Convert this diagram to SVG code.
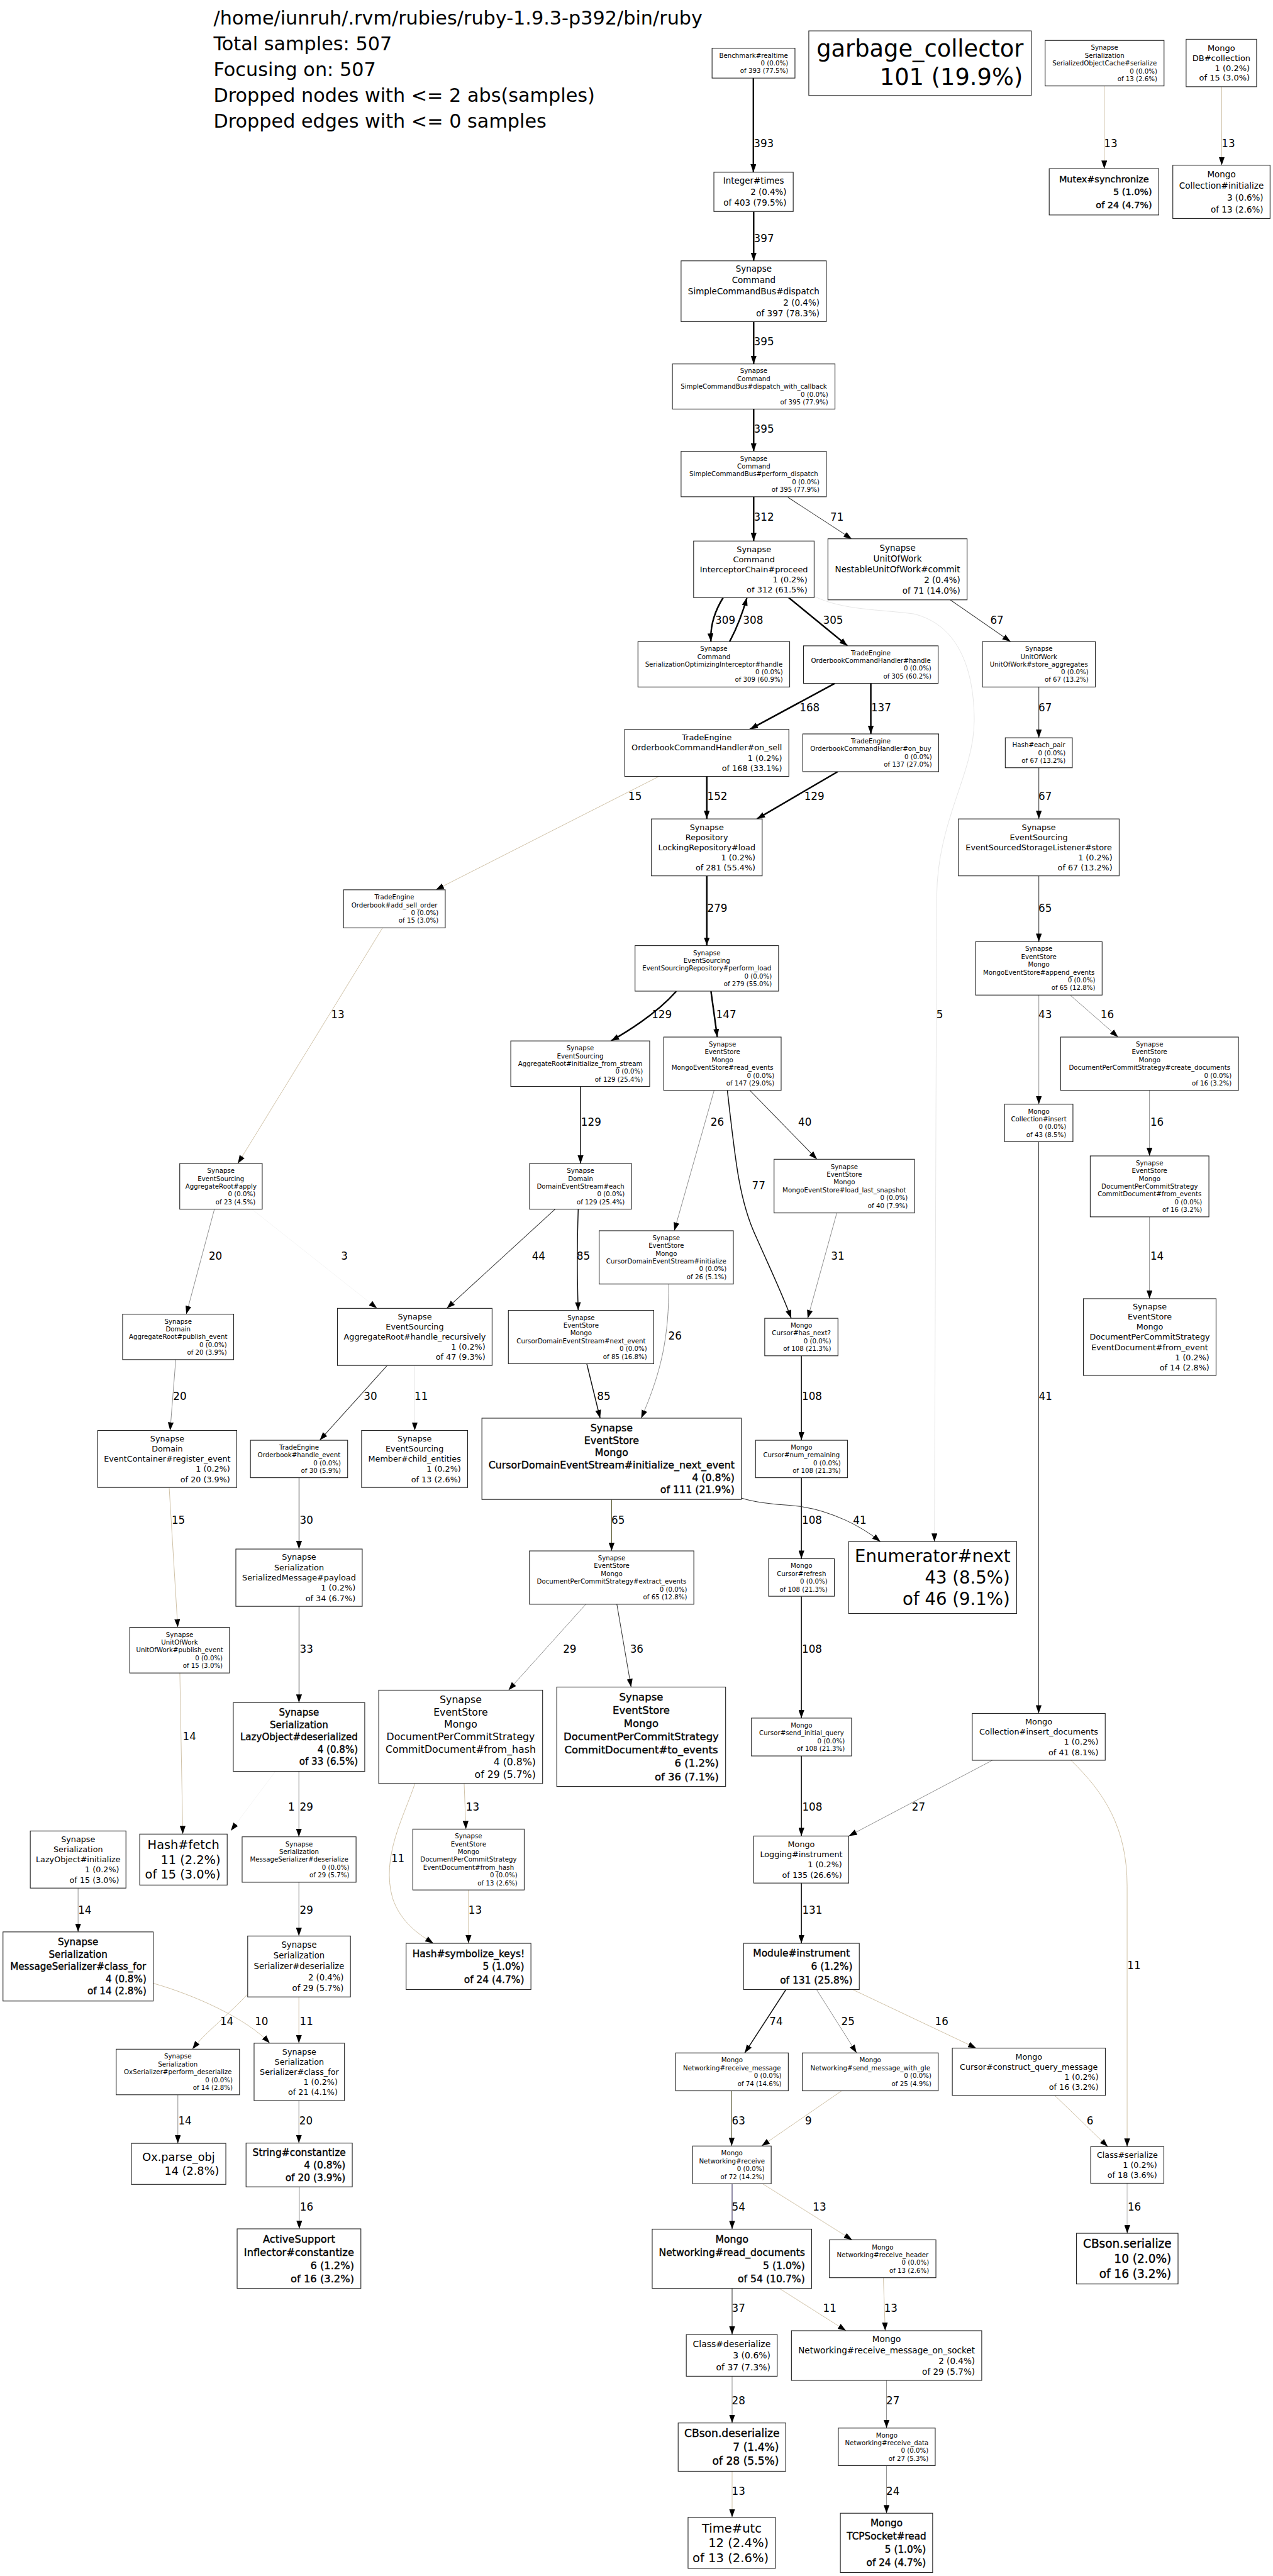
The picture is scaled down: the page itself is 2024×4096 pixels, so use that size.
<svg xmlns="http://www.w3.org/2000/svg" width="2024" height="4096" viewBox="0 0 2024 4096">
<style>
.n rect{fill:#fff;stroke:#222;stroke-width:1.2}
.n text,.lg text,.el text{font-family:'DejaVu Sans',sans-serif;fill:#000}
.c{text-anchor:middle}
.r{text-anchor:end}
.hv text{stroke:#000;stroke-width:0.4px}
.e path{fill:none;marker-end:url(#ah)}
.h{stroke:#000;stroke-width:2.6}
.b{stroke:#111;stroke-width:1.6}
.d{stroke:#333;stroke-width:1.1}
.m{stroke:#888;stroke-width:1}
.t{stroke:#cbbc9f;stroke-width:1}
.f{stroke:#e4e4e4;stroke-width:1}
.g{stroke:#f4f4f4;stroke-width:1}
.el text{font-size:18px;text-anchor:middle}
</style>
<defs>
<marker id="ah" markerUnits="userSpaceOnUse" markerWidth="14" markerHeight="10" refX="14" refY="5" orient="auto" viewBox="0 0 14 10"><path d="M0,0 L14,5 L0,10 z" fill="#000"/></marker>
</defs>
<rect width="2024" height="4096" fill="#fff"/>
<g transform="scale(0.93143)">
<g id="legend" class="lg" font-size="32.5">
<text x="364.5" y="42">/home/iunruh/.rvm/rubies/ruby-1.9.3-p392/bin/ruby</text>
<text x="364.5" y="86">Total samples: 507</text>
<text x="364.5" y="130">Focusing on: 507</text>
<text x="364.5" y="174">Dropped nodes with &lt;= 2 abs(samples)</text>
<text x="364.5" y="218">Dropped edges with &lt;= 0 samples</text>
</g>
<g id="connectors">
<g class="e">
<path class="h" d="M1286,133.3 L1286,294"/>
<path class="h" d="M1286.5,361 L1286.5,445.3"/>
<path class="h" d="M1286.5,549 L1286.5,621.3"/>
<path class="h" d="M1286.5,698.3 L1286.5,770.5"/>
<path class="h" d="M1286.5,848 L1286.5,923.6"/>
<path class="d" d="M1345,849 L1454,920"/>
<path class="h" d="M1234.4,1020.2 C1219,1045 1212,1070 1213.6,1095.3"/>
<path class="h" d="M1245.4,1095.3 C1258,1072 1268,1045 1275,1020.2"/>
<path class="h" d="M1346.3,1020.2 L1446.7,1102.5"/>
<path class="d" d="M1622,1024 L1725,1095.3"/>
<path class="f" d="M1389.7,1018 C1440,1042 1500,1040 1560,1048 C1640,1068 1663,1150 1663,1230 C1663,1320 1600,1400 1599,1530 L1595,2631.7"/>
<path class="h" d="M1425,1166.6 L1280,1245"/>
<path class="h" d="M1486.5,1166.6 L1486.5,1252.9"/>
<path class="d" d="M1773.3,1172.8 L1773.3,1259.5"/>
<path class="t" d="M1125,1325.4 L744,1519"/>
<path class="h" d="M1206.5,1325.4 L1206.5,1398"/>
<path class="h" d="M1430,1317.3 L1292,1398"/>
<path class="d" d="M1773.3,1310.6 L1773.3,1398"/>
<path class="h" d="M1206.5,1495.2 L1206.5,1614.3"/>
<path class="d" d="M1773.3,1495.2 L1773.3,1607.7"/>
<path class="t" d="M653,1584 L406,1986.3"/>
<path class="h" d="M1154.6,1692 C1130,1720 1090,1750 1043,1777"/>
<path class="h" d="M1213.6,1692 L1224.4,1770.4"/>
<path class="m" d="M1773.3,1698.7 L1773.3,1885"/>
<path class="m" d="M1826.7,1698.7 L1908.7,1770.4"/>
<path class="b" d="M991,1854.7 L991,1986.3"/>
<path class="m" d="M1219,1861.4 L1151,2101"/>
<path class="d" d="M1280,1861.4 L1394.6,1979"/>
<path class="m" d="M1962.2,1861.4 L1962.2,1973.3"/>
<path class="b" d="M1241.6,1861.4 C1255,1980 1262,2050 1290,2110 C1312,2160 1336,2210 1350.6,2250.5"/>
<path class="m" d="M366,2064.2 L318,2243.4"/>
<path class="g" d="M430,2064.2 L643.6,2233.5"/>
<path class="d" d="M947.6,2064.2 L762.7,2233.5"/>
<path class="b" d="M987,2064.2 C985,2120 985,2180 987,2237"/>
<path class="m" d="M1428.4,2070.6 L1378.7,2250.5"/>
<path class="m" d="M1962.2,2077.3 L1962.2,2217"/>
<path class="m" d="M1141.5,2192 C1142,2280 1130,2340 1094.5,2421"/>
<path class="m" d="M300,2321 L290.4,2442"/>
<path class="d" d="M661,2331 L545.7,2458.7"/>
<path class="f" d="M708,2331 L708,2442"/>
<path class="b" d="M1001.6,2328 L1024.4,2421"/>
<path class="b" d="M1368,2314.5 L1368,2458.7"/>
<path class="d" d="M1773,1949 L1773,2925"/>
<path class="t" d="M288.8,2539.3 L303.4,2778"/>
<path class="d" d="M510.4,2522.6 L510.4,2644.4"/>
<path class="d" style="stroke:#55552a" d="M1044,2559.7 L1044,2647.6"/>
<path class="b" d="M1368,2522.6 L1368,2661"/>
<path class="d" d="M1265.4,2557.4 C1300,2568 1335,2568 1368.7,2572 C1420,2580 1470,2605 1502.7,2631.7"/>
<path class="d" d="M510.4,2742.2 L510.4,2906.6"/>
<path class="m" d="M1000,2738.6 L868,2885.3"/>
<path class="d" d="M1053,2738.6 L1077.3,2880"/>
<path class="b" d="M1368,2725 L1368,2933"/>
<path class="t" d="M307,2856 L312,3131"/>
<path class="m" d="M1694,3005 L1448.8,3134.3"/>
<path class="t" d="M1828,3005 C1885,3060 1924,3120 1924,3220 L1924,3664.6"/>
<path class="g" d="M470,3024 L394,3125.4"/>
<path class="m" d="M510.2,3024 L510.2,3135.7"/>
<path class="t" d="M792.3,3044.7 L795.3,3122.5"/>
<path class="t" d="M708.3,3044.7 C690,3100 650,3170 670,3240 C685,3285 720,3305 739.8,3317.5"/>
<path class="b" d="M1368,2997.6 L1368,3134.3"/>
<path class="m" d="M133.3,3223.2 L133.3,3298"/>
<path class="m" d="M510.2,3213.2 L510.2,3305"/>
<path class="t" d="M799.7,3226.4 L799.7,3317.5"/>
<path class="b" d="M1368,3214.6 L1368,3317.5"/>
<path class="t" d="M422.2,3404.6 C395,3435 350,3470 328.4,3498.2"/>
<path class="t" d="M261.5,3385.7 C330,3405 420,3445 460.5,3488"/>
<path class="t" d="M510.2,3409 L510.2,3488"/>
<path class="b" d="M1341.6,3396.4 L1271.3,3504.6"/>
<path class="m" d="M1393.8,3396.4 L1462.2,3504.6"/>
<path class="t" d="M1455.4,3396.4 L1666.4,3496.4"/>
<path class="m" d="M303.6,3576 L303.6,3659"/>
<path class="m" d="M510.2,3586 L510.2,3658.5"/>
<path class="d" style="stroke:#4a4a22" d="M1249,3569.3 L1249,3663.5"/>
<path class="t" d="M1436.7,3569.3 L1300,3663.5"/>
<path class="t" d="M1800.4,3577.1 L1891,3664.6"/>
<path class="m" d="M510.9,3733.2 L510.9,3804.9"/>
<path class="d" style="stroke:#2a1f55" d="M1249.7,3728 L1249.7,3805.4"/>
<path class="t" d="M1301.8,3728 L1454.5,3823.7"/>
<path class="f" style="stroke:#d8d8d8;stroke-width:2.4" d="M1924.2,3727 L1924.2,3812.5"/>
<path class="d" d="M1249.7,3906.6 L1249.7,3985.4"/>
<path class="t" d="M1330.3,3906.6 L1444.2,3978.8"/>
<path class="t" d="M1507.9,3888.3 L1511,3978.8"/>
<path class="m" d="M1249.7,4056.5 L1249.7,4136.3"/>
<path class="m" d="M1513.3,4063.6 L1513.3,4145"/>
<path class="t" d="M1249.7,4218.7 L1249.7,4297.5"/>
<path class="m" d="M1513.3,4209 L1513.3,4290.4"/>
<path class="t" d="M1885,146.7 L1885,288"/>
<path class="t" d="M2085.5,148 L2085.5,282"/>
</g>
<g class="el">
<text x="1303.6" y="250.8">393</text>
<text x="1304" y="413.1">397</text>
<text x="1304" y="589.5">395</text>
<text x="1304" y="738.5">395</text>
<text x="1304" y="888.5">312</text>
<text x="1428.6" y="888.5">71</text>
<text x="1238" y="1064.5">309</text>
<text x="1285.5" y="1064.5">308</text>
<text x="1422" y="1064.5">305</text>
<text x="1701.8" y="1064.5">67</text>
<text x="1604" y="1738.5">5</text>
<text x="1382" y="1214.2">168</text>
<text x="1504" y="1214.2">137</text>
<text x="1784" y="1214.2">67</text>
<text x="1084" y="1365.9">15</text>
<text x="1224.5" y="1365.9">152</text>
<text x="1390" y="1365.9">129</text>
<text x="1784" y="1365.9">67</text>
<text x="1224.5" y="1556.5">279</text>
<text x="1784" y="1556.5">65</text>
<text x="576.5" y="1738.5">13</text>
<text x="1129.6" y="1738.5">129</text>
<text x="1239.6" y="1738.5">147</text>
<text x="1784" y="1738.5">43</text>
<text x="1890" y="1738.5">16</text>
<text x="1009" y="1921.5">129</text>
<text x="1224.4" y="1921.5">26</text>
<text x="1374" y="1921.5">40</text>
<text x="1975" y="1921.5">16</text>
<text x="1295" y="2030">77</text>
<text x="367.8" y="2150.5">20</text>
<text x="587.9" y="2150.5">3</text>
<text x="919.4" y="2150.5">44</text>
<text x="995.7" y="2150.5">85</text>
<text x="1430" y="2150.5">31</text>
<text x="1975" y="2150.5">14</text>
<text x="1152.3" y="2287">26</text>
<text x="307" y="2389.5">20</text>
<text x="632.4" y="2389.5">30</text>
<text x="719" y="2389.5">11</text>
<text x="1030.7" y="2389.5">85</text>
<text x="1386" y="2389.5">108</text>
<text x="1784.6" y="2389.5">41</text>
<text x="304.5" y="2601.1">15</text>
<text x="523" y="2601.1">30</text>
<text x="1055" y="2601.1">65</text>
<text x="1386" y="2601.1">108</text>
<text x="1467.6" y="2601.1">41</text>
<text x="523" y="2821.5">33</text>
<text x="972.5" y="2821.5">29</text>
<text x="1086.9" y="2821.5">36</text>
<text x="1386" y="2821.5">108</text>
<text x="323.4" y="2970.2">14</text>
<text x="1568" y="3090.8">27</text>
<text x="1935.7" y="3361.1">11</text>
<text x="497.4" y="3090.8">1</text>
<text x="523" y="3090.8">29</text>
<text x="806.8" y="3090.8">13</text>
<text x="679.2" y="3179">11</text>
<text x="1386.5" y="3090.8">108</text>
<text x="144.8" y="3266.5">14</text>
<text x="523" y="3266.5">29</text>
<text x="811" y="3266.5">13</text>
<text x="1386.5" y="3267.2">131</text>
<text x="387.1" y="3456.9">14</text>
<text x="446.4" y="3456.9">10</text>
<text x="523" y="3456.9">11</text>
<text x="1324.8" y="3456.9">74</text>
<text x="1447.4" y="3456.9">25</text>
<text x="1607.5" y="3456.9">16</text>
<text x="315.7" y="3626.5">14</text>
<text x="522.3" y="3626.8">20</text>
<text x="1260.6" y="3626.8">63</text>
<text x="1380" y="3626.8">9</text>
<text x="1860.6" y="3626.8">6</text>
<text x="523.3" y="3773.3">16</text>
<text x="1260.6" y="3773.3">54</text>
<text x="1398.8" y="3773.3">13</text>
<text x="1936.4" y="3773.3">16</text>
<text x="1260.6" y="3946.1">37</text>
<text x="1416.4" y="3946.1">11</text>
<text x="1520.6" y="3946.1">13</text>
<text x="1260.6" y="4104.7">28</text>
<text x="1524.2" y="4104.7">27</text>
<text x="1260.6" y="4258.8">13</text>
<text x="1524.2" y="4258.8">24</text>
<text x="1896" y="250.8">13</text>
<text x="2096.7" y="250.8">13</text>
</g>
</g>
<g id="n_benchmark" class="n" font-size="11"><rect x="1215.5" y="82.3" width="141.5" height="51"/><text class="c" x="1286.3" y="98.7">Benchmark#realtime</text><text class="r" x="1345.5" y="111.7">0 (0.0%)</text><text class="r" x="1345.5" y="124.7">of 393 (77.5%)</text></g>
<g id="n_gc" class="n" font-size="39.5"><rect x="1380.6" y="52.7" width="379.8" height="110.3"/><text class="c" x="1570.5" y="96.5">garbage_collector</text><text class="r" x="1746" y="144.5">101 (19.9%)</text></g>
<g id="n_soc" class="n" font-size="11"><rect x="1784" y="69" width="203" height="77.7"/><text class="c" x="1885.5" y="84.9">Synapse</text><text class="c" x="1885.5" y="98.3">Serialization</text><text class="c" x="1885.5" y="111.7">SerializedObjectCache#serialize</text><text class="r" x="1975.5" y="125.1">0 (0.0%)</text><text class="r" x="1975.5" y="138.5">of 13 (2.6%)</text></g>
<g id="n_dbcoll" class="n" font-size="14"><rect x="2024.7" y="67" width="120.3" height="81"/><text class="c" x="2084.9" y="86.9">Mongo</text><text class="c" x="2084.9" y="103.9">DB#collection</text><text class="r" x="2133.5" y="120.9">1 (0.2%)</text><text class="r" x="2133.5" y="137.9">of 15 (3.0%)</text></g>
<g id="n_inttimes" class="n" font-size="14.4"><rect x="1218.6" y="294" width="135.4" height="67"/><text class="c" x="1286.3" y="314">Integer#times</text><text class="r" x="1342.5" y="332.5">2 (0.4%)</text><text class="r" x="1342.5" y="351">of 403 (79.5%)</text></g>
<g id="n_mutex" class="n hv" font-size="15.5"><rect x="1791" y="288" width="187" height="79"/><text class="c" x="1884.5" y="310.9">Mutex#synchronize</text><text class="r" x="1966.5" y="332.9">5 (1.0%)</text><text class="r" x="1966.5" y="354.9">of 24 (4.7%)</text></g>
<g id="n_collinit" class="n" font-size="14.5"><rect x="2002" y="282" width="166" height="91"/><text class="c" x="2085" y="302.6">Mongo</text><text class="c" x="2085" y="322.6">Collection#initialize</text><text class="r" x="2156.5" y="342.6">3 (0.6%)</text><text class="r" x="2156.5" y="362.6">of 13 (2.6%)</text></g>
<g id="n_dispatch" class="n" font-size="14.5"><rect x="1162.6" y="445.3" width="247.9" height="103.7"/><text class="c" x="1286.6" y="464.3">Synapse</text><text class="c" x="1286.6" y="483.3">Command</text><text class="c" x="1286.6" y="502.3">SimpleCommandBus#dispatch</text><text class="r" x="1399" y="521.3">2 (0.4%)</text><text class="r" x="1399" y="540.3">of 397 (78.3%)</text></g>
<g id="n_dwc" class="n" font-size="11"><rect x="1147.8" y="621.3" width="277.5" height="77"/><text class="c" x="1286.6" y="636.9">Synapse</text><text class="c" x="1286.6" y="650.3">Command</text><text class="c" x="1286.6" y="663.7">SimpleCommandBus#dispatch_with_callback</text><text class="r" x="1413.8" y="677.1">0 (0.0%)</text><text class="r" x="1413.8" y="690.5">of 395 (77.9%)</text></g>
<g id="n_pdispatch" class="n" font-size="11"><rect x="1162.6" y="770.5" width="247.9" height="77.5"/><text class="c" x="1286.6" y="786.7">Synapse</text><text class="c" x="1286.6" y="799.9">Command</text><text class="c" x="1286.6" y="813.1">SimpleCommandBus#perform_dispatch</text><text class="r" x="1399" y="826.3">0 (0.0%)</text><text class="r" x="1399" y="839.5">of 395 (77.9%)</text></g>
<g id="n_proceed" class="n" font-size="13.9"><rect x="1184" y="923.6" width="205.7" height="96.6"/><text class="c" x="1286.9" y="942.4">Synapse</text><text class="c" x="1286.9" y="959.6">Command</text><text class="c" x="1286.9" y="976.8">InterceptorChain#proceed</text><text class="r" x="1378.2" y="994">1 (0.2%)</text><text class="r" x="1378.2" y="1011.2">of 312 (61.5%)</text></g>
<g id="n_commit" class="n" font-size="14.5"><rect x="1413.3" y="919.8" width="237.5" height="104.2"/><text class="c" x="1532.1" y="940">Synapse</text><text class="c" x="1532.1" y="958.5">UnitOfWork</text><text class="c" x="1532.1" y="977">NestableUnitOfWork#commit</text><text class="r" x="1639.3" y="995.5">2 (0.4%)</text><text class="r" x="1639.3" y="1014">of 71 (14.0%)</text></g>
<g id="n_soi" class="n" font-size="11"><rect x="1089" y="1095.3" width="259" height="77.5"/><text class="c" x="1218.5" y="1111.5">Synapse</text><text class="c" x="1218.5" y="1124.7">Command</text><text class="c" x="1218.5" y="1137.9">SerializationOptimizingInterceptor#handle</text><text class="r" x="1336.5" y="1151.1">0 (0.0%)</text><text class="r" x="1336.5" y="1164.3">of 309 (60.9%)</text></g>
<g id="n_och" class="n" font-size="11"><rect x="1371.6" y="1102.5" width="229.8" height="64.1"/><text class="c" x="1486.5" y="1118.6">TradeEngine</text><text class="c" x="1486.5" y="1131.8">OrderbookCommandHandler#handle</text><text class="r" x="1589.9" y="1145">0 (0.0%)</text><text class="r" x="1589.9" y="1158.2">of 305 (60.2%)</text></g>
<g id="n_storeagg" class="n" font-size="11"><rect x="1677" y="1095.3" width="192.7" height="77.5"/><text class="c" x="1773.4" y="1111.5">Synapse</text><text class="c" x="1773.4" y="1124.7">UnitOfWork</text><text class="c" x="1773.4" y="1137.9">UnitOfWork#store_aggregates</text><text class="r" x="1858.2" y="1151.1">0 (0.0%)</text><text class="r" x="1858.2" y="1164.3">of 67 (13.2%)</text></g>
<g id="n_onsell" class="n" font-size="13.8"><rect x="1066.4" y="1245" width="280.2" height="80.4"/><text class="c" x="1206.5" y="1263.8">TradeEngine</text><text class="c" x="1206.5" y="1281.3">OrderbookCommandHandler#on_sell</text><text class="r" x="1335.1" y="1298.8">1 (0.2%)</text><text class="r" x="1335.1" y="1316.3">of 168 (33.1%)</text></g>
<g id="n_onbuy" class="n" font-size="11"><rect x="1370.4" y="1252.9" width="231.9" height="64.4"/><text class="c" x="1486.4" y="1268.9">TradeEngine</text><text class="c" x="1486.4" y="1282.3">OrderbookCommandHandler#on_buy</text><text class="r" x="1590.8" y="1295.7">0 (0.0%)</text><text class="r" x="1590.8" y="1309.1">of 137 (27.0%)</text></g>
<g id="n_eachpair" class="n" font-size="11"><rect x="1716" y="1259.5" width="114.4" height="51.1"/><text class="c" x="1773.2" y="1275.6">Hash#each_pair</text><text class="r" x="1818.9" y="1288.9">0 (0.0%)</text><text class="r" x="1818.9" y="1302.2">of 67 (13.2%)</text></g>
<g id="n_lockload" class="n" font-size="13.7"><rect x="1112" y="1398" width="189" height="97.2"/><text class="c" x="1206.5" y="1416.8">Synapse</text><text class="c" x="1206.5" y="1434.1">Repository</text><text class="c" x="1206.5" y="1451.4">LockingRepository#load</text><text class="r" x="1289.5" y="1468.7">1 (0.2%)</text><text class="r" x="1289.5" y="1486">of 281 (55.4%)</text></g>
<g id="n_esstore" class="n" font-size="13.7"><rect x="1636" y="1398" width="274.4" height="97.2"/><text class="c" x="1773.2" y="1416.8">Synapse</text><text class="c" x="1773.2" y="1434.1">EventSourcing</text><text class="c" x="1773.2" y="1451.4">EventSourcedStorageListener#store</text><text class="r" x="1898.9" y="1468.7">1 (0.2%)</text><text class="r" x="1898.9" y="1486">of 67 (13.2%)</text></g>
<g id="n_addsell" class="n" font-size="11"><rect x="586.4" y="1519" width="173.6" height="65"/><text class="c" x="673.2" y="1535.6">TradeEngine</text><text class="c" x="673.2" y="1548.8">Orderbook#add_sell_order</text><text class="r" x="748.5" y="1562">0 (0.0%)</text><text class="r" x="748.5" y="1575.2">of 15 (3.0%)</text></g>
<g id="n_perfload" class="n" font-size="11"><rect x="1084" y="1614.3" width="245" height="77.7"/><text class="c" x="1206.5" y="1630.6">Synapse</text><text class="c" x="1206.5" y="1643.8">EventSourcing</text><text class="c" x="1206.5" y="1657">EventSourcingRepository#perform_load</text><text class="r" x="1317.5" y="1670.2">0 (0.0%)</text><text class="r" x="1317.5" y="1683.4">of 279 (55.0%)</text></g>
<g id="n_append" class="n" font-size="11"><rect x="1665.3" y="1607.7" width="216" height="91"/><text class="c" x="1773.3" y="1623.8">Synapse</text><text class="c" x="1773.3" y="1637.1">EventStore</text><text class="c" x="1773.3" y="1650.4">Mongo</text><text class="c" x="1773.3" y="1663.7">MongoEventStore#append_events</text><text class="r" x="1869.8" y="1677">0 (0.0%)</text><text class="r" x="1869.8" y="1690.3">of 65 (12.8%)</text></g>
<g id="n_initstream" class="n" font-size="11"><rect x="871.9" y="1777" width="237.1" height="77.7"/><text class="c" x="990.5" y="1793.1">Synapse</text><text class="c" x="990.5" y="1806.4">EventSourcing</text><text class="c" x="990.5" y="1819.7">AggregateRoot#initialize_from_stream</text><text class="r" x="1097.5" y="1833">0 (0.0%)</text><text class="r" x="1097.5" y="1846.3">of 129 (25.4%)</text></g>
<g id="n_readevents" class="n" font-size="11"><rect x="1133" y="1770.4" width="200.4" height="91"/><text class="c" x="1233.2" y="1786.5">Synapse</text><text class="c" x="1233.2" y="1799.8">EventStore</text><text class="c" x="1233.2" y="1813.1">Mongo</text><text class="c" x="1233.2" y="1826.4">MongoEventStore#read_events</text><text class="r" x="1321.9" y="1839.7">0 (0.0%)</text><text class="r" x="1321.9" y="1853">of 147 (29.0%)</text></g>
<g id="n_createdocs" class="n" font-size="11"><rect x="1810.5" y="1770.4" width="303.5" height="91"/><text class="c" x="1962.3" y="1786.5">Synapse</text><text class="c" x="1962.3" y="1799.8">EventStore</text><text class="c" x="1962.3" y="1813.1">Mongo</text><text class="c" x="1962.3" y="1826.4">DocumentPerCommitStrategy#create_documents</text><text class="r" x="2102.5" y="1839.7">0 (0.0%)</text><text class="r" x="2102.5" y="1853">of 16 (3.2%)</text></g>
<g id="n_collinsert" class="n" font-size="11"><rect x="1714.8" y="1885" width="116.7" height="64"/><text class="c" x="1773.2" y="1900.9">Mongo</text><text class="c" x="1773.2" y="1914.2">Collection#insert</text><text class="r" x="1820" y="1927.5">0 (0.0%)</text><text class="r" x="1820" y="1940.8">of 43 (8.5%)</text></g>
<g id="n_apply" class="n" font-size="11"><rect x="306.8" y="1986.3" width="140.8" height="77.9"/><text class="c" x="377.2" y="2002.5">Synapse</text><text class="c" x="377.2" y="2015.8">EventSourcing</text><text class="c" x="377.2" y="2029.1">AggregateRoot#apply</text><text class="r" x="436.1" y="2042.4">0 (0.0%)</text><text class="r" x="436.1" y="2055.7">of 23 (4.5%)</text></g>
<g id="n_each" class="n" font-size="11"><rect x="904" y="1986.3" width="174" height="77.9"/><text class="c" x="991" y="2002.5">Synapse</text><text class="c" x="991" y="2015.8">Domain</text><text class="c" x="991" y="2029.1">DomainEventStream#each</text><text class="r" x="1066.5" y="2042.4">0 (0.0%)</text><text class="r" x="1066.5" y="2055.7">of 129 (25.4%)</text></g>
<g id="n_snapshot" class="n" font-size="11"><rect x="1321.3" y="1979" width="239.7" height="91.6"/><text class="c" x="1441.2" y="1995.4">Synapse</text><text class="c" x="1441.2" y="2008.7">EventStore</text><text class="c" x="1441.2" y="2022">Mongo</text><text class="c" x="1441.2" y="2035.3">MongoEventStore#load_last_snapshot</text><text class="r" x="1549.5" y="2048.6">0 (0.0%)</text><text class="r" x="1549.5" y="2061.9">of 40 (7.9%)</text></g>
<g id="n_fromevents" class="n" font-size="11"><rect x="1861" y="1973.3" width="202.6" height="104"/><text class="c" x="1962.3" y="1989.3">Synapse</text><text class="c" x="1962.3" y="2002.6">EventStore</text><text class="c" x="1962.3" y="2015.9">Mongo</text><text class="c" x="1962.3" y="2029.2">DocumentPerCommitStrategy</text><text class="c" x="1962.3" y="2042.5">CommitDocument#from_events</text><text class="r" x="2052.1" y="2055.8">0 (0.0%)</text><text class="r" x="2052.1" y="2069.1">of 16 (3.2%)</text></g>
<g id="n_cdesinit" class="n" font-size="11"><rect x="1022.7" y="2101" width="229.1" height="91"/><text class="c" x="1137.3" y="2117.1">Synapse</text><text class="c" x="1137.3" y="2130.4">EventStore</text><text class="c" x="1137.3" y="2143.7">Mongo</text><text class="c" x="1137.3" y="2157">CursorDomainEventStream#initialize</text><text class="r" x="1240.3" y="2170.3">0 (0.0%)</text><text class="r" x="1240.3" y="2183.6">of 26 (5.1%)</text></g>
<g id="n_publish" class="n" font-size="11"><rect x="209.3" y="2243.4" width="189.6" height="77.6"/><text class="c" x="304.1" y="2259.5">Synapse</text><text class="c" x="304.1" y="2272.8">Domain</text><text class="c" x="304.1" y="2286.1">AggregateRoot#publish_event</text><text class="r" x="387.4" y="2299.4">0 (0.0%)</text><text class="r" x="387.4" y="2312.7">of 20 (3.9%)</text></g>
<g id="n_handlerec" class="n" font-size="13.7"><rect x="576" y="2233.5" width="264" height="97.5"/><text class="c" x="708" y="2252.7">Synapse</text><text class="c" x="708" y="2269.9">EventSourcing</text><text class="c" x="708" y="2287.1">AggregateRoot#handle_recursively</text><text class="r" x="828.5" y="2304.3">1 (0.2%)</text><text class="r" x="828.5" y="2321.5">of 47 (9.3%)</text></g>
<g id="n_nextevent" class="n" font-size="11"><rect x="867.8" y="2237" width="248.2" height="91"/><text class="c" x="991.9" y="2253.1">Synapse</text><text class="c" x="991.9" y="2266.4">EventStore</text><text class="c" x="991.9" y="2279.7">Mongo</text><text class="c" x="991.9" y="2293">CursorDomainEventStream#next_event</text><text class="r" x="1104.5" y="2306.3">0 (0.0%)</text><text class="r" x="1104.5" y="2319.6">of 85 (16.8%)</text></g>
<g id="n_hasnext" class="n" font-size="11"><rect x="1305.4" y="2250.5" width="125" height="64"/><text class="c" x="1367.9" y="2266.4">Mongo</text><text class="c" x="1367.9" y="2279.7">Cursor#has_next?</text><text class="r" x="1418.9" y="2293">0 (0.0%)</text><text class="r" x="1418.9" y="2306.3">of 108 (21.3%)</text></g>
<g id="n_fromevent" class="n" font-size="13.7"><rect x="1849.4" y="2217" width="226.4" height="131"/><text class="c" x="1962.6" y="2235.4">Synapse</text><text class="c" x="1962.6" y="2252.7">EventStore</text><text class="c" x="1962.6" y="2270">Mongo</text><text class="c" x="1962.6" y="2287.3">DocumentPerCommitStrategy</text><text class="c" x="1962.6" y="2304.6">EventDocument#from_event</text><text class="r" x="2064.3" y="2321.9">1 (0.2%)</text><text class="r" x="2064.3" y="2339.2">of 14 (2.8%)</text></g>
<g id="n_register" class="n" font-size="13.7"><rect x="166.8" y="2442" width="237.4" height="97.3"/><text class="c" x="285.5" y="2460.9">Synapse</text><text class="c" x="285.5" y="2478.2">Domain</text><text class="c" x="285.5" y="2495.5">EventContainer#register_event</text><text class="r" x="392.7" y="2512.8">1 (0.2%)</text><text class="r" x="392.7" y="2530.1">of 20 (3.9%)</text></g>
<g id="n_handleevent" class="n" font-size="11"><rect x="427.5" y="2458.7" width="165.9" height="63.9"/><text class="c" x="510.5" y="2474.6">TradeEngine</text><text class="c" x="510.5" y="2487.9">Orderbook#handle_event</text><text class="r" x="581.9" y="2501.2">0 (0.0%)</text><text class="r" x="581.9" y="2514.5">of 30 (5.9%)</text></g>
<g id="n_child" class="n" font-size="13.7"><rect x="617.2" y="2442" width="181" height="97.3"/><text class="c" x="707.7" y="2460.9">Synapse</text><text class="c" x="707.7" y="2478.2">EventSourcing</text><text class="c" x="707.7" y="2495.5">Member#child_entities</text><text class="r" x="786.7" y="2512.8">1 (0.2%)</text><text class="r" x="786.7" y="2530.1">of 13 (2.6%)</text></g>
<g id="n_initnext" class="n hv" font-size="17"><rect x="822.6" y="2421" width="442.8" height="138.7"/><text class="c" x="1044" y="2443.3">Synapse</text><text class="c" x="1044" y="2464.5">EventStore</text><text class="c" x="1044" y="2485.7">Mongo</text><text class="c" x="1044" y="2506.9">CursorDomainEventStream#initialize_next_event</text><text class="r" x="1253.9" y="2528.1">4 (0.8%)</text><text class="r" x="1253.9" y="2549.3">of 111 (21.9%)</text></g>
<g id="n_numrem" class="n" font-size="11"><rect x="1289.7" y="2458.7" width="156.9" height="63.9"/><text class="c" x="1368.2" y="2474.6">Mongo</text><text class="c" x="1368.2" y="2487.9">Cursor#num_remaining</text><text class="r" x="1435.1" y="2501.2">0 (0.0%)</text><text class="r" x="1435.1" y="2514.5">of 108 (21.3%)</text></g>
<g id="n_enum" class="n" font-size="29.6"><rect x="1448.5" y="2631.7" width="287" height="122.7"/><text class="c" x="1592" y="2666.4">Enumerator#next</text><text class="r" x="1724" y="2703.4">43 (8.5%)</text><text class="r" x="1724" y="2740.4">of 46 (9.1%)</text></g>
<g id="n_extract" class="n" font-size="11"><rect x="903.8" y="2647.6" width="280.6" height="91"/><text class="c" x="1044.1" y="2663.7">Synapse</text><text class="c" x="1044.1" y="2677">EventStore</text><text class="c" x="1044.1" y="2690.3">Mongo</text><text class="c" x="1044.1" y="2703.6">DocumentPerCommitStrategy#extract_events</text><text class="r" x="1172.9" y="2716.9">0 (0.0%)</text><text class="r" x="1172.9" y="2730.2">of 65 (12.8%)</text></g>
<g id="n_refresh" class="n" font-size="11"><rect x="1312" y="2661" width="112.2" height="64"/><text class="c" x="1368.1" y="2676.9">Mongo</text><text class="c" x="1368.1" y="2690.2">Cursor#refresh</text><text class="r" x="1412.7" y="2703.5">0 (0.0%)</text><text class="r" x="1412.7" y="2716.8">of 108 (21.3%)</text></g>
<g id="n_payload" class="n" font-size="13.8"><rect x="402.6" y="2644.4" width="215.7" height="97.8"/><text class="c" x="510.5" y="2663.1">Synapse</text><text class="c" x="510.5" y="2680.6">Serialization</text><text class="c" x="510.5" y="2698.1">SerializedMessage#payload</text><text class="r" x="606.8" y="2715.6">1 (0.2%)</text><text class="r" x="606.8" y="2733.1">of 34 (6.7%)</text></g>
<g id="n_uowpublish" class="n" font-size="11"><rect x="221.5" y="2778" width="170.2" height="78"/><text class="c" x="306.6" y="2794.3">Synapse</text><text class="c" x="306.6" y="2807.6">UnitOfWork</text><text class="c" x="306.6" y="2820.9">UnitOfWork#publish_event</text><text class="r" x="380.2" y="2834.2">0 (0.0%)</text><text class="r" x="380.2" y="2847.5">of 15 (3.0%)</text></g>
<g id="n_fromhash" class="n" font-size="16.9"><rect x="646.5" y="2885.3" width="279.7" height="159.4"/><text class="c" x="786.4" y="2907">Synapse</text><text class="c" x="786.4" y="2928.3">EventStore</text><text class="c" x="786.4" y="2949.6">Mongo</text><text class="c" x="786.4" y="2970.9">DocumentPerCommitStrategy</text><text class="c" x="786.4" y="2992.2">CommitDocument#from_hash</text><text class="r" x="914.7" y="3013.5">4 (0.8%)</text><text class="r" x="914.7" y="3034.8">of 29 (5.7%)</text></g>
<g id="n_toevents" class="n hv" font-size="17.7"><rect x="950.4" y="2880" width="288.2" height="169.7"/><text class="c" x="1094.5" y="2903.3">Synapse</text><text class="c" x="1094.5" y="2925.9">EventStore</text><text class="c" x="1094.5" y="2948.5">Mongo</text><text class="c" x="1094.5" y="2971.1">DocumentPerCommitStrategy</text><text class="c" x="1094.5" y="2993.7">CommitDocument#to_events</text><text class="r" x="1227.1" y="3016.3">6 (1.2%)</text><text class="r" x="1227.1" y="3038.9">of 36 (7.1%)</text></g>
<g id="n_lazydeser" class="n hv" font-size="16.2"><rect x="398.2" y="2906.6" width="224.4" height="117.4"/><text class="c" x="510.4" y="2929">Synapse</text><text class="c" x="510.4" y="2950">Serialization</text><text class="c" x="510.4" y="2971">LazyObject#deserialized</text><text class="r" x="611.1" y="2992">4 (0.8%)</text><text class="r" x="611.1" y="3013">of 33 (6.5%)</text></g>
<g id="n_sendinit" class="n" font-size="11"><rect x="1282.7" y="2933" width="170.9" height="64.6"/><text class="c" x="1368.2" y="2949.2">Mongo</text><text class="c" x="1368.2" y="2962.5">Cursor#send_initial_query</text><text class="r" x="1442.1" y="2975.8">0 (0.0%)</text><text class="r" x="1442.1" y="2989.1">of 108 (21.3%)</text></g>
<g id="n_insertdocs" class="n" font-size="13.8"><rect x="1659.6" y="2925" width="227" height="80"/><text class="c" x="1773.1" y="2943.6">Mongo</text><text class="c" x="1773.1" y="2961.1">Collection#insert_documents</text><text class="r" x="1875.1" y="2978.6">1 (0.2%)</text><text class="r" x="1875.1" y="2996.1">of 41 (8.1%)</text></g>
<g id="n_lazyinit" class="n" font-size="13.7"><rect x="51.7" y="3125.7" width="163.3" height="97.5"/><text class="c" x="133.4" y="3144.7">Synapse</text><text class="c" x="133.4" y="3162">Serialization</text><text class="c" x="133.4" y="3179.3">LazyObject#initialize</text><text class="r" x="203.5" y="3196.6">1 (0.2%)</text><text class="r" x="203.5" y="3213.9">of 15 (3.0%)</text></g>
<g id="n_hashfetch" class="n" font-size="20.8"><rect x="238.5" y="3131" width="149.3" height="87"/><text class="c" x="313.2" y="3156.3">Hash#fetch</text><text class="r" x="376.3" y="3181.8">11 (2.2%)</text><text class="r" x="376.3" y="3207.3">of 15 (3.0%)</text></g>
<g id="n_msgdeser" class="n" font-size="11"><rect x="413.3" y="3135.7" width="194.5" height="77.5"/><text class="c" x="510.6" y="3151.7">Synapse</text><text class="c" x="510.6" y="3165">Serialization</text><text class="c" x="510.6" y="3178.3">MessageSerializer#deserialize</text><text class="r" x="596.3" y="3191.6">0 (0.0%)</text><text class="r" x="596.3" y="3204.9">of 29 (5.7%)</text></g>
<g id="n_evdocfromhash" class="n" font-size="11"><rect x="704.7" y="3122.5" width="190.1" height="103.9"/><text class="c" x="799.8" y="3138.4">Synapse</text><text class="c" x="799.8" y="3151.7">EventStore</text><text class="c" x="799.8" y="3165">Mongo</text><text class="c" x="799.8" y="3178.3">DocumentPerCommitStrategy</text><text class="c" x="799.8" y="3191.6">EventDocument#from_hash</text><text class="r" x="883.3" y="3204.9">0 (0.0%)</text><text class="r" x="883.3" y="3218.2">of 13 (2.6%)</text></g>
<g id="n_logging" class="n" font-size="13.7"><rect x="1286.7" y="3134.3" width="162.1" height="80.3"/><text class="c" x="1367.8" y="3153.2">Mongo</text><text class="c" x="1367.8" y="3170.6">Logging#instrument</text><text class="r" x="1437.3" y="3188">1 (0.2%)</text><text class="r" x="1437.3" y="3205.4">of 135 (26.6%)</text></g>
<g id="n_classfor" class="n hv" font-size="16.3"><rect x="5.1" y="3298" width="256.4" height="118"/><text class="c" x="133.3" y="3320.7">Synapse</text><text class="c" x="133.3" y="3341.7">Serialization</text><text class="c" x="133.3" y="3362.7">MessageSerializer#class_for</text><text class="r" x="250" y="3383.7">4 (0.8%)</text><text class="r" x="250" y="3404.7">of 14 (2.8%)</text></g>
<g id="n_serdeser" class="n" font-size="14.2"><rect x="422.8" y="3305" width="175.4" height="104"/><text class="c" x="510.5" y="3324.6">Synapse</text><text class="c" x="510.5" y="3343.3">Serialization</text><text class="c" x="510.5" y="3362">Serializer#deserialize</text><text class="r" x="586.7" y="3380.7">2 (0.4%)</text><text class="r" x="586.7" y="3399.4">of 29 (5.7%)</text></g>
<g id="n_symbolize" class="n hv" font-size="16.6"><rect x="693.2" y="3317.5" width="213.1" height="78.9"/><text class="c" x="799.8" y="3340.7">Hash#symbolize_keys!</text><text class="r" x="894.8" y="3362.8">5 (1.0%)</text><text class="r" x="894.8" y="3384.9">of 24 (4.7%)</text></g>
<g id="n_module" class="n hv" font-size="16.6"><rect x="1269.3" y="3317.5" width="197.5" height="78.9"/><text class="c" x="1368.1" y="3339.9">Module#instrument</text><text class="r" x="1455.3" y="3362.8">6 (1.2%)</text><text class="r" x="1455.3" y="3385.7">of 131 (25.8%)</text></g>
<g id="n_ox" class="n" font-size="11"><rect x="198.3" y="3498.2" width="210.5" height="77.8"/><text class="c" x="303.6" y="3514.4">Synapse</text><text class="c" x="303.6" y="3527.7">Serialization</text><text class="c" x="303.6" y="3541">OxSerializer#perform_deserialize</text><text class="r" x="397.3" y="3554.3">0 (0.0%)</text><text class="r" x="397.3" y="3567.6">of 14 (2.8%)</text></g>
<g id="n_serclassfor" class="n" font-size="13.7"><rect x="433.7" y="3488" width="154.3" height="98"/><text class="c" x="510.9" y="3507.4">Synapse</text><text class="c" x="510.9" y="3524.6">Serialization</text><text class="c" x="510.9" y="3541.8">Serializer#class_for</text><text class="r" x="576.5" y="3559">1 (0.2%)</text><text class="r" x="576.5" y="3576.2">of 21 (4.1%)</text></g>
<g id="n_recvmsg" class="n" font-size="11"><rect x="1153.4" y="3504.6" width="192.2" height="64.7"/><text class="c" x="1249.5" y="3520.9">Mongo</text><text class="c" x="1249.5" y="3534.2">Networking#receive_message</text><text class="r" x="1334.1" y="3547.5">0 (0.0%)</text><text class="r" x="1334.1" y="3560.8">of 74 (14.6%)</text></g>
<g id="n_sendgle" class="n" font-size="11"><rect x="1369.7" y="3504.6" width="231.8" height="64.7"/><text class="c" x="1485.6" y="3520.9">Mongo</text><text class="c" x="1485.6" y="3534.2">Networking#send_message_with_gle</text><text class="r" x="1590" y="3547.5">0 (0.0%)</text><text class="r" x="1590" y="3560.8">of 25 (4.9%)</text></g>
<g id="n_cqm" class="n" font-size="13.7"><rect x="1625.6" y="3496.4" width="261.2" height="80.7"/><text class="c" x="1756.2" y="3515.6">Mongo</text><text class="c" x="1756.2" y="3532.9">Cursor#construct_query_message</text><text class="r" x="1875.3" y="3550.2">1 (0.2%)</text><text class="r" x="1875.3" y="3567.5">of 16 (3.2%)</text></g>
<g id="n_parseobj" class="n" font-size="19"><rect x="224.3" y="3659" width="161.2" height="70"/><text class="c" x="304.9" y="3688.7">Ox.parse_obj</text><text class="r" x="374" y="3712.7">14 (2.8%)</text></g>
<g id="n_strconst" class="n hv" font-size="16.6"><rect x="420" y="3658.5" width="181.3" height="74.7"/><text class="c" x="510.7" y="3680.1">String#constantize</text><text class="r" x="589.8" y="3701.7">4 (0.8%)</text><text class="r" x="589.8" y="3723.3">of 20 (3.9%)</text></g>
<g id="n_recv" class="n" font-size="11"><rect x="1182.4" y="3663.5" width="134" height="64.5"/><text class="c" x="1249.4" y="3679.7">Mongo</text><text class="c" x="1249.4" y="3693">Networking#receive</text><text class="r" x="1304.9" y="3706.3">0 (0.0%)</text><text class="r" x="1304.9" y="3719.6">of 72 (14.2%)</text></g>
<g id="n_classser" class="n" font-size="13.7"><rect x="1861.8" y="3664.6" width="124.9" height="62.4"/><text class="c" x="1924.3" y="3683.3">Class#serialize</text><text class="r" x="1975.2" y="3700.6">1 (0.2%)</text><text class="r" x="1975.2" y="3717.9">of 18 (3.6%)</text></g>
<g id="n_inflector" class="n hv" font-size="17.5"><rect x="404.8" y="3804.9" width="211.2" height="101.7"/><text class="c" x="510.4" y="3828">ActiveSupport</text><text class="c" x="510.4" y="3850.6">Inflector#constantize</text><text class="r" x="604.5" y="3873.2">6 (1.2%)</text><text class="r" x="604.5" y="3895.8">of 16 (3.2%)</text></g>
<g id="n_readdocs" class="n hv" font-size="16.8"><rect x="1113.3" y="3805.4" width="272.2" height="101.2"/><text class="c" x="1249.4" y="3828.2">Mongo</text><text class="c" x="1249.4" y="3850.7">Networking#read_documents</text><text class="r" x="1374" y="3873.2">5 (1.0%)</text><text class="r" x="1374" y="3895.7">of 54 (10.7%)</text></g>
<g id="n_recvheader" class="n" font-size="11"><rect x="1415.8" y="3823.7" width="181.8" height="64.6"/><text class="c" x="1506.7" y="3839.9">Mongo</text><text class="c" x="1506.7" y="3853.2">Networking#receive_header</text><text class="r" x="1586.1" y="3866.5">0 (0.0%)</text><text class="r" x="1586.1" y="3879.8">of 13 (2.6%)</text></g>
<g id="n_cbsonser" class="n hv" font-size="19.9"><rect x="1837.6" y="3812.5" width="173.3" height="86.5"/><text class="c" x="1924.3" y="3837.1">CBson.serialize</text><text class="r" x="1999.4" y="3862.8">10 (2.0%)</text><text class="r" x="1999.4" y="3888.5">of 16 (3.2%)</text></g>
<g id="n_classdeser" class="n" font-size="15"><rect x="1171.5" y="3985.4" width="155.2" height="71.1"/><text class="c" x="1249.1" y="4006.4">Class#deserialize</text><text class="r" x="1315.2" y="4026.2">3 (0.6%)</text><text class="r" x="1315.2" y="4046">of 37 (7.3%)</text></g>
<g id="n_rmos" class="n" font-size="14.6"><rect x="1351" y="3978.8" width="324.8" height="84.8"/><text class="c" x="1513.4" y="3998.4">Mongo</text><text class="c" x="1513.4" y="4017">Networking#receive_message_on_socket</text><text class="r" x="1664.3" y="4035.6">2 (0.4%)</text><text class="r" x="1664.3" y="4054.2">of 29 (5.7%)</text></g>
<g id="n_cbsondeser" class="n hv" font-size="18.4"><rect x="1157.6" y="4136.3" width="183.6" height="82.4"/><text class="c" x="1249.4" y="4159.9">CBson.deserialize</text><text class="r" x="1329.7" y="4183.9">7 (1.4%)</text><text class="r" x="1329.7" y="4207.9">of 28 (5.5%)</text></g>
<g id="n_recvdata" class="n" font-size="11"><rect x="1431" y="4145" width="165.4" height="64"/><text class="c" x="1513.7" y="4160.9">Mongo</text><text class="c" x="1513.7" y="4174.2">Networking#receive_data</text><text class="r" x="1584.9" y="4187.5">0 (0.0%)</text><text class="r" x="1584.9" y="4200.8">of 27 (5.3%)</text></g>
<g id="n_timeutc" class="n" font-size="21"><rect x="1174.5" y="4297.5" width="149.1" height="87"/><text class="c" x="1249.1" y="4323">Time#utc</text><text class="r" x="1312.1" y="4348.4">12 (2.4%)</text><text class="r" x="1312.1" y="4373.8">of 13 (2.6%)</text></g>
<g id="n_tcpread" class="n hv" font-size="16.4"><rect x="1434.5" y="4290.4" width="157.5" height="101.2"/><text class="c" x="1513.3" y="4313">Mongo</text><text class="c" x="1513.3" y="4335.5">TCPSocket#read</text><text class="r" x="1580.5" y="4358">5 (1.0%)</text><text class="r" x="1580.5" y="4380.5">of 24 (4.7%)</text></g>
</g>
</svg>
